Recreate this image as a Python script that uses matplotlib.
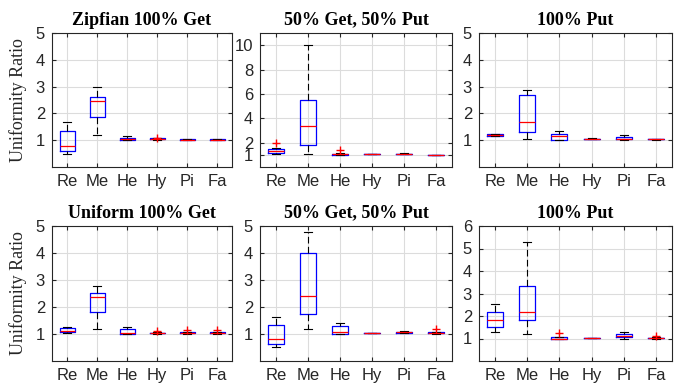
import matplotlib.pyplot as plt

cats = ['Re', 'Me', 'He', 'Hy', 'Pi', 'Fa']

titles = ['Zipfian 100% Get', '50% Get, 50% Put', '100% Put',
          'Uniform 100% Get', '50% Get, 50% Put', '100% Put']

# box stats per category: [whislo, q1, med, q3, whishi]
zipf_get = [[0.48, 0.60, 0.79, 1.34, 1.69],
            [1.19, 1.88, 2.48, 2.61, 3.00],
            [1.00, 1.00, 1.03, 1.07, 1.16],
            [1.02, 1.03, 1.05, 1.07, 1.08],
            [1.01, 1.01, 1.02, 1.03, 1.03],
            [1.01, 1.01, 1.02, 1.03, 1.03]]
zipf_get_fl = [[], [], [], [1.10], [], []]

zipf_mix = [[1.08, 1.12, 1.29, 1.50, 1.55],
            [1.10, 1.78, 3.34, 5.53, 10.0],
            [1.00, 1.00, 1.03, 1.10, 1.12],
            [1.03, 1.04, 1.05, 1.06, 1.07],
            [1.06, 1.07, 1.08, 1.10, 1.11],
            [0.99, 1.00, 1.00, 1.01, 1.02]]
zipf_mix_fl = [[1.97], [], [1.38], [], [], []]

zipf_put = [[1.16, 1.17, 1.19, 1.22, 1.23],
            [1.04, 1.31, 1.69, 2.70, 2.86],
            [1.00, 1.00, 1.14, 1.25, 1.34],
            [1.04, 1.05, 1.05, 1.06, 1.07],
            [1.00, 1.03, 1.06, 1.13, 1.18],
            [1.02, 1.03, 1.03, 1.04, 1.05]]
zipf_put_fl = [[], [], [], [], [], []]

unif_get = [[1.05, 1.06, 1.11, 1.22, 1.26],
            [1.18, 1.83, 2.36, 2.51, 2.78],
            [1.00, 1.00, 1.02, 1.17, 1.26],
            [1.01, 1.02, 1.03, 1.05, 1.06],
            [1.01, 1.02, 1.04, 1.06, 1.07],
            [1.01, 1.02, 1.04, 1.06, 1.07]]
unif_get_fl = [[], [], [], [1.10], [1.15], [1.15]]

unif_mix = [[0.52, 0.64, 0.81, 1.32, 1.64],
            [1.18, 1.74, 2.42, 3.99, 4.79],
            [1.00, 1.01, 1.07, 1.29, 1.40],
            [1.03, 1.03, 1.04, 1.05, 1.05],
            [1.02, 1.03, 1.06, 1.09, 1.11],
            [1.01, 1.02, 1.04, 1.06, 1.07]]
unif_mix_fl = [[], [], [], [], [], [1.18]]

unif_put = [[1.28, 1.53, 1.81, 2.17, 2.54],
            [1.21, 1.83, 2.20, 3.32, 5.31],
            [0.97, 0.98, 1.00, 1.05, 1.06],
            [1.01, 1.02, 1.02, 1.03, 1.03],
            [1.00, 1.05, 1.13, 1.19, 1.28],
            [1.00, 1.01, 1.02, 1.04, 1.05]]
unif_put_fl = [[], [], [1.25], [], [], [1.10]]

panels = [(zipf_get, zipf_get_fl), (zipf_mix, zipf_mix_fl), (zipf_put, zipf_put_fl),
          (unif_get, unif_get_fl), (unif_mix, unif_mix_fl), (unif_put, unif_put_fl)]

ylims = [5, 11, 5, 5, 5, 6]
yticks = [[1, 2, 3, 4, 5], [1, 2, 4, 6, 8, 10], [1, 2, 3, 4, 5],
          [1, 2, 3, 4, 5], [1, 2, 3, 4, 5], [1, 2, 3, 4, 5, 6]]

dark = '#262626'
W, H = 675, 385
# axes boxes in pixels: left, right / top, bottom
cols = [(52, 232), (260, 452), (479, 672)]
rows = [(33, 167), (226, 361)]

fig = plt.figure(figsize=(W / 100, H / 100), dpi=100)

for i, (stats, fl) in enumerate(panels):
    r, c = divmod(i, 3)
    x0, x1 = cols[c]
    y0, y1 = rows[r]
    ax = fig.add_axes([x0 / W, 1 - y1 / H, (x1 - x0) / W, (y1 - y0) / H])
    bx = []
    for s, f, name in zip(stats, fl, cats):
        bx.append({'whislo': s[0], 'q1': s[1], 'med': s[2], 'q3': s[3],
                   'whishi': s[4], 'fliers': f, 'label': name})
    ax.bxp(bx, widths=0.5, capwidths=0.25, showfliers=True,
           boxprops=dict(color='blue', linewidth=0.9),
           medianprops=dict(color='red', linewidth=0.9),
           whiskerprops=dict(color='black', linewidth=0.8, linestyle=(0, (6, 3))),
           capprops=dict(color='black', linewidth=0.8),
           flierprops=dict(marker='+', markeredgecolor='red', markersize=6,
                           markeredgewidth=1.0, linestyle='none'))
    ax.set_xlim(0.5, 6.5)
    ax.set_ylim(0, ylims[i])
    ax.set_yticks(yticks[i])
    ax.grid(True, color='#dcdcdc', linewidth=0.8)
    ax.set_axisbelow(True)
    ax.tick_params(direction='in', length=3, top=True, right=True,
                   colors=dark, labelsize=12, pad=5)
    for lab in ax.get_xticklabels() + ax.get_yticklabels():
        lab.set_fontfamily('Liberation Sans')
    for sp in ax.spines.values():
        sp.set_color(dark)
        sp.set_linewidth(0.8)
    ax.set_title(titles[i], fontfamily='Liberation Serif', fontweight='bold',
                 fontsize=13, pad=6)
    if c == 0:
        ax.set_ylabel('Uniformity Ratio', fontfamily='Liberation Serif',
                      fontsize=13, labelpad=6, color=dark)

fig.savefig('out.png', dpi=100)
